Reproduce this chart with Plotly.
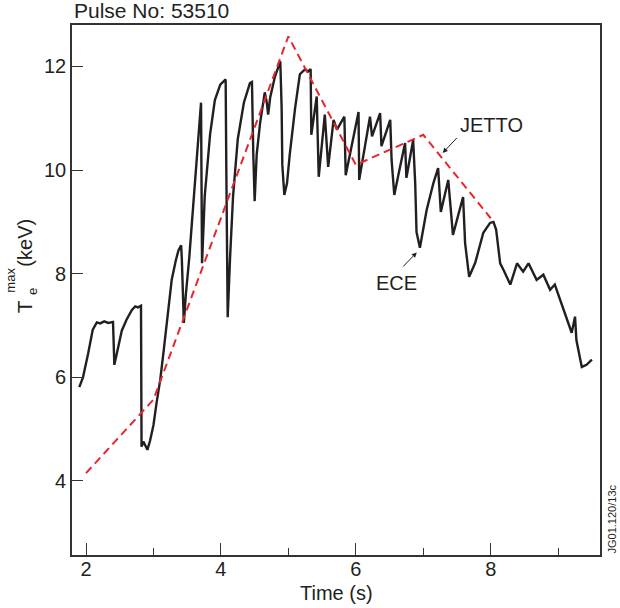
import plotly.graph_objects as go

# ECE measured Te max (keV) vs time (s)
ece_t = [1.90, 1.955, 2.03, 2.10, 2.16, 2.21, 2.27, 2.33, 2.40, 2.42, 2.48, 2.53, 2.60, 2.68, 2.73, 2.77, 2.815,
         2.823, 2.85, 2.875, 2.91, 2.95, 3.00, 3.045, 3.10, 3.15, 3.20, 3.27, 3.33, 3.37, 3.41, 3.42, 3.45,
         3.48, 3.53, 3.59, 3.65, 3.69, 3.705, 3.72, 3.76, 3.84, 3.91, 3.99, 4.07, 4.08, 4.10, 4.135, 4.18,
         4.25, 4.34, 4.43, 4.46, 4.48, 4.50, 4.53, 4.58, 4.65, 4.68, 4.70, 4.73, 4.80, 4.88, 4.90, 4.91,
         4.94, 4.98, 5.02, 5.10, 5.17, 5.25, 5.29, 5.33, 5.34, 5.42, 5.45, 5.54, 5.59, 5.67, 5.72, 5.83,
         5.85, 6.04, 6.05, 6.21, 6.24, 6.36, 6.38, 6.51, 6.53, 6.57, 6.63, 6.73, 6.75, 6.85, 6.88, 6.90,
         6.95, 7.05, 7.15, 7.22, 7.26, 7.37, 7.44, 7.59, 7.62, 7.68, 7.77, 7.89, 7.99, 8.04, 8.08, 8.14,
         8.19, 8.29, 8.39, 8.48, 8.56, 8.68, 8.78, 8.88, 8.95, 9.03, 9.10, 9.20, 9.25, 9.27, 9.35, 9.42, 9.50]
ece_te = [5.81, 6.00, 6.45, 6.92, 7.06, 7.04, 7.08, 7.05, 7.07, 6.24, 6.60, 6.90, 7.11, 7.30, 7.37, 7.35, 7.38,
          4.66, 4.76, 4.68, 4.60, 4.78, 5.08, 5.50, 5.95, 6.50, 7.05, 7.88, 8.25, 8.45, 8.55, 8.30, 7.05,
          7.60, 8.30, 9.30, 10.40, 11.05, 11.30, 8.20, 9.50, 10.70, 11.35, 11.65, 11.75, 10.00, 7.16, 8.30, 9.50,
          10.60, 11.30, 11.68, 11.70, 10.30, 9.40, 10.30, 10.90, 11.50, 11.30, 11.07, 11.40, 11.80, 12.10, 11.20, 10.10,
          9.52, 9.75, 10.30, 11.20, 11.85, 11.95, 11.90, 11.95, 10.68, 11.42, 9.87, 11.07, 10.06, 10.97, 10.78, 11.03,
          9.90, 11.12, 9.81, 11.03, 10.65, 11.10, 10.46, 10.97, 10.20, 9.52, 9.90, 10.52, 9.85, 10.58, 9.75, 8.80,
          8.50, 9.23, 9.75, 10.04, 9.19, 9.81, 8.75, 9.48, 8.59, 7.94, 8.21, 8.79, 8.98, 9.00, 8.85, 8.20,
          8.07, 7.79, 8.20, 8.04, 8.20, 7.88, 7.98, 7.69, 7.79, 7.50, 7.24, 6.86, 7.17, 6.72, 6.20, 6.24, 6.34]

# JETTO simulation
jetto_t = [2.0, 3.0, 5.0, 6.0, 7.0, 8.0]
jetto_te = [4.15, 5.57, 12.58, 10.10, 10.68, 9.07]

x_major = [2, 4, 6, 8]
x_minor = [3, 5, 7, 9]
y_ticks = [4, 6, 8, 10, 12]

FONT = "Liberation Sans, Arial, Helvetica, sans-serif"
INK = "#231f20"

fig = go.Figure()
fig.add_trace(go.Scatter(x=ece_t, y=ece_te, mode="lines",
                         line=dict(color=INK, width=2.4), showlegend=False, hoverinfo="skip"))
fig.add_trace(go.Scatter(x=jetto_t, y=jetto_te, mode="lines",
                         line=dict(color="#e8262d", width=2, dash="8px,5px"), showlegend=False, hoverinfo="skip"))

fig.update_layout(
    template="none",
    width=620, height=608,
    margin=dict(l=72, r=20, t=25, b=53),
    paper_bgcolor="white", plot_bgcolor="white",
    font=dict(family=FONT, size=20, color=INK),
    xaxis=dict(range=[1.792, 9.62], tickmode="array", tickvals=x_major, ticktext=[str(v) for v in x_major],
               automargin=False,
               ticks="inside", ticklen=12, tickwidth=1.3, tickcolor="#333", ticklabelstandoff=-5,
               minor=dict(tickmode="array", tickvals=x_minor, ticks="inside", ticklen=7, tickwidth=1.3, tickcolor="#333"),
               showgrid=False, zeroline=False, showline=True, linecolor="#333", linewidth=1.6, mirror=True,
               tickfont=dict(size=20)),
    yaxis=dict(range=[2.57, 12.80], tickmode="array", tickvals=y_ticks, ticktext=[str(v) for v in y_ticks],
               automargin=False,
               ticks="inside", ticklen=11, tickwidth=1.3, tickcolor="#333",
               showgrid=False, zeroline=False, showline=True, linecolor="#333", linewidth=1.6, mirror=True,
               tickfont=dict(size=20)),
)

ann = []
# Title
ann.append(dict(text="Pulse No: 53510", x=0, y=1.0, xref="paper", yref="paper", xanchor="left", yanchor="bottom",
                yshift=1, showarrow=False, font=dict(size=21)))
# X-axis title
ann.append(dict(text="Time (s)", x=0.5, y=-0.0717, xref="paper", yref="paper", xanchor="center", yanchor="middle",
                showarrow=False, font=dict(size=20)))
# Y-axis title built from pieces (stacked sub/superscript)
ann.append(dict(text="T", x=-0.114, y=0.468, xref="paper", yref="paper", textangle=-90, showarrow=False,
                font=dict(size=21)))
ann.append(dict(text="e", x=-0.093, y=0.497, xref="paper", yref="paper", textangle=-90, showarrow=False,
                font=dict(size=13)))
ann.append(dict(text="max", x=-0.135, y=0.518, xref="paper", yref="paper", textangle=-90, showarrow=False,
                font=dict(size=13)))
ann.append(dict(text="(keV)", x=-0.114, y=0.589, xref="paper", yref="paper", textangle=-90, showarrow=False,
                font=dict(size=20)))
# Figure ID
ann.append(dict(text="JG01.120/13c", x=1.0227, y=0.0, xref="paper", yref="paper", textangle=-90,
                xanchor="center", yanchor="bottom", showarrow=False, font=dict(size=11)))
# Labels with arrows
ann.append(dict(text="JETTO", x=8.005, y=10.87, xref="x", yref="y", showarrow=False, font=dict(size=20)))
ann.append(dict(text="", x=7.288, y=10.33, xref="x", yref="y", ax=15.6, ay=-16.6, showarrow=True,
                arrowhead=2, arrowsize=1, arrowwidth=1, arrowcolor=INK))
ann.append(dict(text="ECE", x=6.61, y=7.82, xref="x", yref="y", showarrow=False, font=dict(size=20)))
ann.append(dict(text="", x=6.903, y=8.41, xref="x", yref="y", ax=-15, ay=15.6, showarrow=True,
                arrowhead=2, arrowsize=1, arrowwidth=1, arrowcolor=INK))
fig.update_layout(annotations=ann)

# remove the default 8px page margin so the figure sits at the window's top-left corner
fig.write_html("out.html", config={"displayModeBar": False},
               post_script="document.body.style.margin='0px';")
